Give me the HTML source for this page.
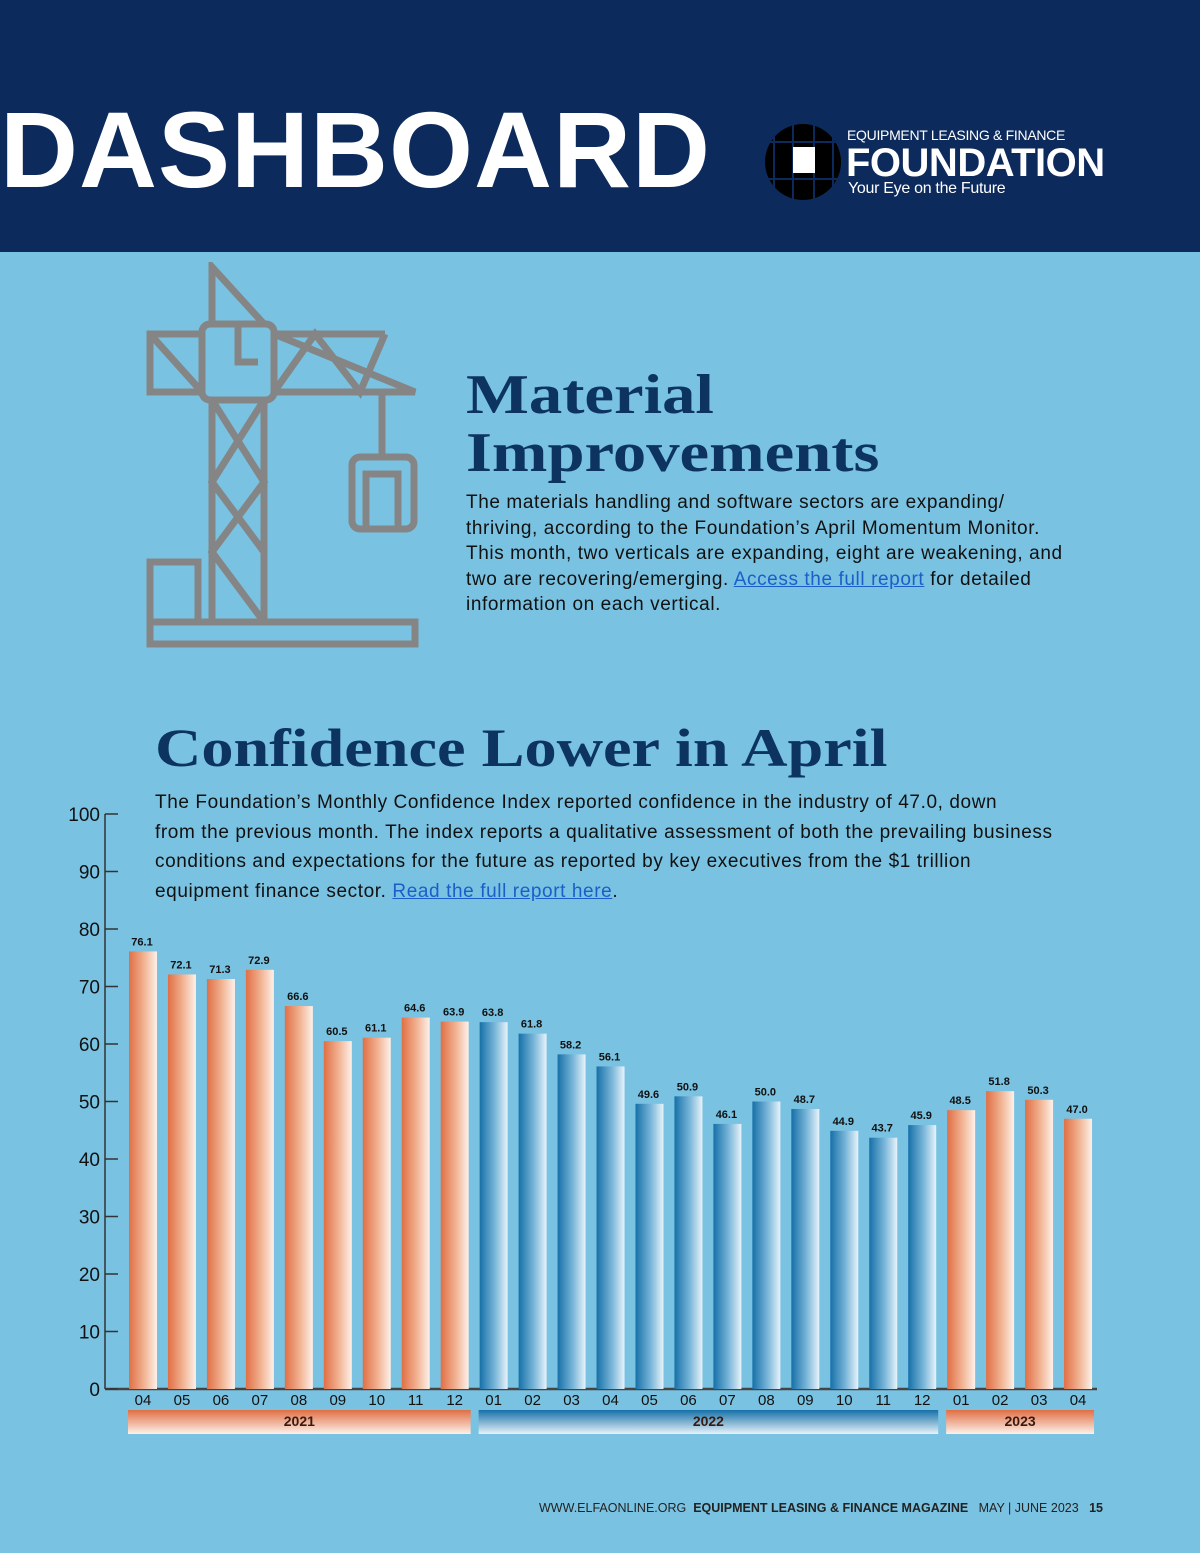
<!DOCTYPE html>
<html><head><meta charset="utf-8">
<style>
html,body{margin:0;padding:0}
body{width:1200px;height:1553px;position:relative;overflow:hidden;background:#79c2e1;font-family:"Liberation Sans",sans-serif}
.hdr{position:absolute;left:0;top:0;width:1200px;height:252px;background:#0c2a5b}
.dash{position:absolute;left:0;top:96px;font-size:108px;font-weight:bold;color:#fff;letter-spacing:1px;line-height:1}
.h1{position:absolute;font-family:"Liberation Serif",serif;font-weight:bold;color:#0d3360;transform-origin:0 0;white-space:nowrap}
.body{position:absolute;color:#111;font-size:19px;white-space:nowrap;letter-spacing:0.6px}
a{color:#1a5fc9;text-decoration:underline}
</style></head><body>
<div class="hdr"></div>
<div class="dash">DASHBOARD</div>
<svg style="position:absolute;left:764px;top:122px" width="80" height="80">
<circle cx="39" cy="40" r="38" fill="#000"/>
<g stroke="#0c2a5b" stroke-width="2"><line x1="10" y1="0" x2="10" y2="80"/><line x1="29" y1="0" x2="29" y2="80"/><line x1="50" y1="0" x2="50" y2="80"/><line x1="69" y1="0" x2="69" y2="80"/><line x1="0" y1="20" x2="80" y2="20"/><line x1="0" y1="57" x2="80" y2="57"/></g>
<rect x="29" y="25" width="22" height="26" fill="#fff"/>
</svg>
<div style="position:absolute;left:847px;top:127px;color:#fff;font-size:14px;letter-spacing:-0.3px">EQUIPMENT LEASING &amp; FINANCE</div>
<div style="position:absolute;left:846px;top:143px;color:#fff;font-size:40px;font-weight:bold;letter-spacing:-0.5px;line-height:40px">FOUNDATION</div>
<div style="position:absolute;left:848px;top:180px;color:#fff;font-size:16px;letter-spacing:-0.3px">Your Eye on the Future</div>

<svg style="position:absolute;left:140px;top:262px" width="290" height="390" fill="none" stroke="#858585" stroke-width="7">
<rect x="10" y="360" width="265" height="22"/>
<rect x="10" y="300" width="48" height="60"/>
<rect x="72" y="138" width="52" height="222"/>
<path d="M72 138 L124 220 L72 290 L124 360 M124 138 L72 220 L124 290"/>
<rect x="62" y="62" width="72" height="76" rx="8"/>
<rect x="10" y="72" width="52" height="58"/>
<path d="M10 72 L62 130 M134 72 L275 130 L134 130 M134 130 L175 72 L220 130 L245 72 M134 72 L245 72"/>
<path d="M72 62 L72 5 L124 62"/>
<line x1="242" y1="130" x2="242" y2="195"/>
<rect x="212" y="195" width="62" height="72" rx="8"/>
<rect x="226" y="212" width="32" height="55"/>
<path d="M98 62 L98 100 L118 100"/>
</svg>

<div class="h1" style="left:466px;top:366px;font-size:56px;line-height:58px;transform:scaleX(1.19)">Material<br>Improvements</div>
<div class="body" style="left:466px;top:490px;line-height:25.5px">The materials handling and software sectors are expanding/<br>thriving, according to the Foundation’s April Momentum Monitor.<br>This month, two verticals are expanding, eight are weakening, and<br>two are recovering/emerging. <a>Access the full report</a> for detailed<br>information on each vertical.</div>

<div class="h1" style="left:155px;top:718px;font-size:54px;line-height:60px;transform:scaleX(1.19)">Confidence Lower in April</div>
<div class="body" style="left:155px;top:788px;line-height:29.5px">The Foundation’s Monthly Confidence Index reported confidence in the industry of 47.0, down<br>from the previous month. The index reports a qualitative assessment of both the prevailing business<br>conditions and expectations for the future as reported by key executives from the $1 trillion<br>equipment finance sector. <a>Read the full report here</a>.</div>

<svg id="chart" style="position:absolute;left:0;top:0" width="1200" height="1553">
<defs>
<linearGradient id="go" x1="0" x2="1"><stop offset="0" stop-color="#e06f45"/><stop offset="0.55" stop-color="#f2b494"/><stop offset="1" stop-color="#fdf1ea"/></linearGradient>
<linearGradient id="gb" x1="0" x2="1"><stop offset="0" stop-color="#1670a8"/><stop offset="0.55" stop-color="#7ab6d9"/><stop offset="1" stop-color="#e8f3fa"/></linearGradient>
<linearGradient id="yo" x1="0" y1="0" x2="0" y2="1"><stop offset="0" stop-color="#e06f45"/><stop offset="1" stop-color="#fdf1ea"/></linearGradient>
<linearGradient id="yb" x1="0" y1="0" x2="0" y2="1"><stop offset="0" stop-color="#1670a8"/><stop offset="1" stop-color="#e8f3fa"/></linearGradient>
</defs>
</svg>

<div style="position:absolute;left:539px;top:1501px;font-size:12.5px;color:#222">WWW.ELFAONLINE.ORG &nbsp;<b>EQUIPMENT LEASING &amp; FINANCE MAGAZINE</b> &nbsp; MAY | JUNE 2023 &nbsp; <b>15</b></div>

<script>
const months=["04","05","06","07","08","09","10","11","12","01","02","03","04","05","06","07","08","09","10","11","12","01","02","03","04"];
const values=[76.1,72.1,71.3,72.9,66.6,60.5,61.1,64.6,63.9,63.8,61.8,58.2,56.1,49.6,50.9,46.1,50.0,48.7,44.9,43.7,45.9,48.5,51.8,50.3,47.0];
const series=["o","o","o","o","o","o","o","o","o","b","b","b","b","b","b","b","b","b","b","b","b","o","o","o","o"];
const yTicks=[0,10,20,30,40,50,60,70,80,90,100];
const years=["2021","2022","2023"];
const yearStart=[0,9,21];
const yearEnd=[8,20,24];
const NS="http://www.w3.org/2000/svg";
const svg=document.getElementById('chart');
const y0=1389,yTop=814,ax=105;
const yS=v=>y0-(v/100)*(y0-yTop);
const xS=i=>143+i*38.96;
const bw=28;
function mk(t,a){const e=document.createElementNS(NS,t);for(const k in a)e.setAttribute(k,a[k]);svg.appendChild(e);return e;}
let e=mk('line',{x1:ax,y1:yTop,x2:ax,y2:y0,stroke:'#333','stroke-width':1.5});


e=mk('line',{x1:ax,y1:y0,x2:1097,y2:y0,stroke:'#444','stroke-width':2.5});


yTicks.forEach(v=>{
 let t=mk('line',{x1:ax,y1:yS(v),x2:ax+13,y2:yS(v),stroke:'#333','stroke-width':1.5});
 
 
 let l=mk('text',{x:100,y:yS(v)+7,'text-anchor':'end','font-size':19,fill:'#111','font-family':'Liberation Sans'});
 l.textContent=v;
 
 
});
values.forEach((v,i)=>{
 const x=xS(i)-bw/2;
 let r=mk('rect',{x:x,y:yS(v),width:bw,height:y0-yS(v),fill:series[i]=='o'?'url(#go)':'url(#gb)'});
 
 
 let t=mk('text',{x:xS(i)-1,y:yS(v)-6,'text-anchor':'middle','font-size':11,'font-weight':'bold',fill:'#111','font-family':'Liberation Sans'});
 t.textContent=v.toFixed(1);
 
 
 let m=mk('text',{x:xS(i),y:1405,'text-anchor':'middle','font-size':15,fill:'#111','font-family':'Liberation Sans'});
 m.textContent=months[i];
 
 
});
years.forEach((yr,k)=>{
 const x1=xS(yearStart[k])-bw/2-1,x2=xS(yearEnd[k])+bw/2+2;
 let r=mk('rect',{x:x1,y:1410,width:x2-x1,height:24,fill:k==1?'url(#yb)':'url(#yo)'});
 
 
 let t=mk('text',{x:(x1+x2)/2,y:1426,'text-anchor':'middle','font-size':14,'font-weight':'bold',fill:'#3a1a10','font-family':'Liberation Sans'});
 t.textContent=yr;
 
 
});
</script>
</body></html>
